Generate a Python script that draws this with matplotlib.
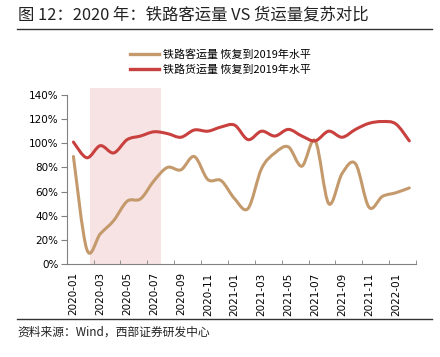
import numpy as np
import matplotlib
matplotlib.use("Agg")
import matplotlib.pyplot as plt
from matplotlib.path import Path
from matplotlib.patches import PathPatch, Rectangle
from matplotlib.lines import Line2D

plt.rcParams['font.family'] = ['Noto Sans CJK SC', 'DejaVu Sans']

# monthly data, 2020-01 .. 2022-02 (share of 2019 level, %)
months = ['2020-01', '2020-02', '2020-03', '2020-04', '2020-05', '2020-06', '2020-07',
          '2020-08', '2020-09', '2020-10', '2020-11', '2020-12', '2021-01', '2021-02',
          '2021-03', '2021-04', '2021-05', '2021-06', '2021-07', '2021-08', '2021-09',
          '2021-10', '2021-11', '2021-12', '2022-01', '2022-02']
passenger = [89, 12, 25, 36, 52, 54, 69, 80, 78, 89, 70, 69, 54, 46,
             79, 92, 97, 81, 102, 50, 75, 83, 47, 56, 59, 63]
freight = [101, 88, 98, 92, 103, 106, 109.5, 108, 105, 111, 110, 113.5, 115, 103,
           110, 106, 111.5, 106, 102, 110, 105, 111.5, 116.5, 118, 116, 102]
shade_start, shade_end = 1.2, 6.5   # highlighted period (category units)

C_PASS = '#C49A6C'
C_FRT = '#C8413F'


def smooth_path(x, y, t=1/6):
    # bezier through the points (Excel-like "smoothed line")
    pts = np.column_stack([x, y]).astype(float)
    n = len(pts)
    verts = [pts[0]]
    codes = [Path.MOVETO]
    for i in range(n - 1):
        p0 = pts[max(i - 1, 0)]
        p1 = pts[i]
        p2 = pts[i + 1]
        p3 = pts[min(i + 2, n - 1)]
        verts += [p1 + (p2 - p0) * t, p2 - (p3 - p1) * t, p2]
        codes += [Path.CURVE4] * 3
    return Path(verts, codes)


fig = plt.figure(figsize=(4.4, 3.57), dpi=100)
ax = fig.add_axes([0.1516, 0.2605, 0.7939, 0.4735])

x = np.arange(len(months))
ax.add_patch(Rectangle((shade_start, 0), shade_end - shade_start, 146,
                       facecolor='#F7E3E4', edgecolor='none', clip_on=False, zorder=0))
ax.add_patch(PathPatch(smooth_path(x, passenger), facecolor='none', edgecolor=C_PASS,
                       lw=2.2, capstyle='round', zorder=3))
ax.add_patch(PathPatch(smooth_path(x, freight), facecolor='none', edgecolor=C_FRT,
                       lw=2.2, capstyle='round', zorder=3))

ax.set_xlim(-0.5, len(months) - 0.5)
ax.set_ylim(0, 140)
ax.set_yticks(range(0, 141, 20))
ax.set_yticklabels([f'{v}%' for v in range(0, 141, 20)], fontsize=7.5, family='DejaVu Sans')
ax.set_xticks(x[::2])
ax.set_xticklabels(months[::2], rotation=90, fontsize=7.5, family='DejaVu Sans')
ax.tick_params(axis='x', length=0, pad=6)
ax.set_xticks(np.arange(1.5, len(months), 2), minor=True)
ax.tick_params(axis='x', which='minor', length=3, direction='in', color='#808080')
ax.tick_params(axis='y', length=4, color='#808080', pad=2)
for s in ['top', 'right']:
    ax.spines[s].set_visible(False)
ax.spines['left'].set_color('#808080')
ax.spines['bottom'].set_color('#808080')

handles = [Line2D([], [], color=C_PASS, lw=2.4), Line2D([], [], color=C_FRT, lw=2.4)]
fig.legend(handles, ['铁路客运量 恢复到2019年水平', '铁路货运量 恢复到2019年水平'],
           loc='center', bbox_to_anchor=(0.5, 1 - 62 / 357), frameon=False, fontsize=7.9,
           handlelength=2.7, handletextpad=0.3, labelspacing=0.45)

fig.text(0.04, 1 - 15 / 357, '图 12：2020 年：铁路客运量 VS 货运量复苏对比', fontsize=11.8,
         va='center', ha='left', color='#222222')
fig.add_artist(Line2D([17 / 440, 432 / 440], [1 - 29 / 357] * 2, color='#333333', lw=1))
fig.add_artist(Line2D([17 / 440, 432 / 440], [1 - 319 / 357] * 2, color='#333333', lw=1))
fig.text(0.04, 1 - 332 / 357, '资料来源：Wind，西部证券研发中心', fontsize=8.5,
         va='center', ha='left', color='#222222')

fig.savefig('out.png', dpi=100)
